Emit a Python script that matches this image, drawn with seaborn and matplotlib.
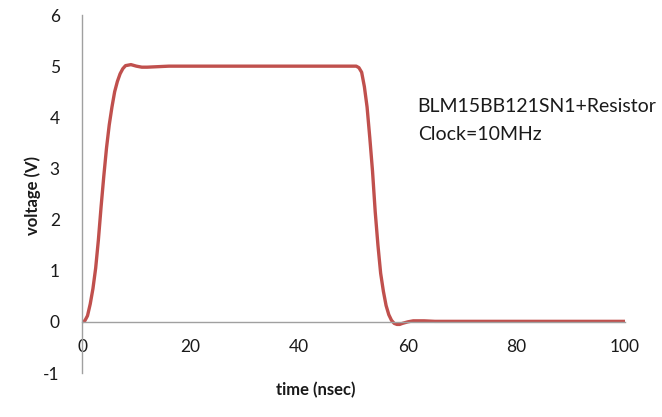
import matplotlib
matplotlib.use("Agg")
import matplotlib.pyplot as plt
import pandas as pd
import seaborn as sns

# waveform
time_ns = [0, 0.5, 1, 1.5, 2, 2.5, 3, 3.5, 4, 4.5, 5, 5.5, 6, 6.5, 7, 7.5, 8,
           9, 10, 11, 12, 14, 16, 20, 30, 40, 50, 50.5, 51, 51.5, 52, 52.5,
           53, 53.5, 54, 54.5, 55, 55.5, 56, 56.5, 57, 57.5, 58, 58.5, 59,
           60, 61, 63, 65, 70, 80, 90, 100]
voltage = [0, 0.02, 0.12, 0.35, 0.65, 1.05, 1.6, 2.25, 2.85, 3.4, 3.85, 4.2,
           4.5, 4.7, 4.85, 4.95, 5.01, 5.03, 5.0, 4.98, 4.98, 4.99, 5.0, 5.0,
           5.0, 5.0, 5.0, 5.0, 4.97, 4.88, 4.6, 4.2, 3.6, 2.95, 2.15, 1.5,
           0.95, 0.6, 0.32, 0.14, 0.03, -0.03, -0.05, -0.05, -0.03, 0.0, 0.02,
           0.02, 0.01, 0.01, 0.01, 0.01, 0.01]
x_ticks = [0, 20, 40, 60, 80, 100]
y_ticks = [-1, 0, 1, 2, 3, 4, 5, 6]
note_lines = ["BLM15BB121SN1+Resistor", "Clock=10MHz"]

df = pd.DataFrame({"time": time_ns, "voltage": voltage})

sns.set_style("white")
plt.rcParams["font.family"] = ["Lato", "DejaVu Sans"]
plt.rcParams["axes.unicode_minus"] = False
plt.rcParams["text.color"] = "#1a1a1a"
plt.rcParams["xtick.labelcolor"] = "#1a1a1a"
plt.rcParams["ytick.labelcolor"] = "#1a1a1a"

fig = plt.figure(figsize=(6.62, 4.17), dpi=100)
ax = fig.add_axes([0.124, 0.1055, 0.82, 0.8585])

sns.lineplot(data=df, x="time", y="voltage", ax=ax, color="#C0504D",
             linewidth=2.4, solid_joinstyle="round", solid_capstyle="round")

ax.set_xlim(0, 100)
ax.set_ylim(-1, 6)
ax.set_xticks(x_ticks)
ax.set_yticks(y_ticks)
ax.tick_params(axis="x", length=4, width=0.8, color="#A0A0A0", direction="out",
               labelsize=12.5, pad=8)
ax.tick_params(axis="y", length=0, labelsize=12.5, pad=16)

for side in ["top", "right"]:
    ax.spines[side].set_visible(False)
ax.spines["bottom"].set_position(("data", 0))
for side in ["left", "bottom"]:
    ax.spines[side].set_color("#A0A0A0")
    ax.spines[side].set_linewidth(1.0)

ax.set_xlabel("")
ax.set_ylabel("")
fig.text(0.05, 0.53, "voltage (V)", rotation=90, ha="center", va="center",
         fontsize=12, fontweight="bold")
fig.text(0.477, 0.065, "time (nsec)", ha="center", va="center",
         fontsize=12, fontweight="bold")

ax.text(0.631, 0.745, note_lines[0], transform=fig.transFigure, fontsize=14,
        va="center", ha="left")
ax.text(0.631, 0.677, note_lines[1], transform=fig.transFigure, fontsize=14,
        va="center", ha="left")

fig.savefig("out.png", dpi=100)
